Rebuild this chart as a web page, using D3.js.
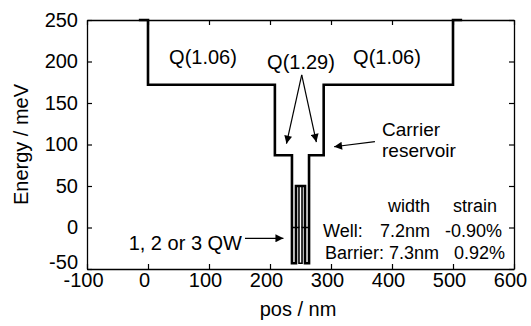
<!DOCTYPE html>
<html><head><meta charset="utf-8">
<script src="https://cdn.jsdelivr.net/npm/d3@7"></script>
<style>
body{margin:0;background:#fff;}
text{font-family:"Liberation Sans",Arial,sans-serif;fill:#000;}
</style></head>
<body><svg id="c" width="531" height="326"></svg>
<script>
// ---- data ----
const xTicks = [-100, 0, 100, 200, 300, 400, 500, 600];
const yTicks = [-50, 0, 50, 100, 150, 200, 250];
// main band profile (pos nm, energy meV)
const outlinePos = [-15, 0, 0, 208, 208, 236, 236, 242.6, 242.6, 257.4, 257.4, 264, 264, 288, 288, 500, 500, 515];
const outlineE   = [250, 250, 172, 172, 87, 87, -43, -43, 50, 50, -43, -43, 87, 87, 172, 172, 250, 250];
// overlaid well profiles
const wellAPos = [236, 247.5, 247.5, 252.5, 252.5, 264];
const wellAE   = [0, 0, -43, -43, 0, 0];
const wellBPos = [247.5, 247.5];
const wellBE   = [50, 0];
const wellCPos = [252.5, 252.5];
const wellCE   = [50, 0];
// arrows [x0,E0,x1,E1] in data units
const arrows = [
  [252, 184, 227, 101],
  [252, 184, 276, 103],
  [372, 103.4, 305, 97.3],
  [159, -13, 222, -13]
];

const x = d3.scaleLinear().domain([-100, 600]).range([87, 514]);
const y = d3.scaleLinear().domain([-50, 250]).range([269, 20]);
const svg = d3.select("#c");
const fmt = d => String(d);

svg.append("defs").append("marker")
  .attr("id", "ah").attr("viewBox", "0 0 10 10").attr("refX", 10).attr("refY", 5)
  .attr("markerWidth", 10).attr("markerHeight", 8).attr("markerUnits", "userSpaceOnUse")
  .attr("orient", "auto")
  .append("path").attr("d", "M0,0 L10,5 L0,10 Z").attr("fill", "#000");

// axes
const tk = 5;
const gB = svg.append("g").attr("transform", `translate(0,${y(-50)})`)
  .call(d3.axisBottom(x).tickValues(xTicks).tickFormat(fmt).tickSizeInner(-tk).tickSizeOuter(0).tickPadding(4));
const gT = svg.append("g").attr("transform", `translate(0,${y(250)})`)
  .call(d3.axisTop(x).tickValues(xTicks).tickSizeInner(-tk).tickSizeOuter(0).tickFormat(""));
const gL = svg.append("g").attr("transform", `translate(${x(-100)},0)`)
  .call(d3.axisLeft(y).tickValues(yTicks).tickFormat(fmt).tickSizeInner(-tk).tickSizeOuter(0).tickPadding(9));
const gR = svg.append("g").attr("transform", `translate(${x(600)},0)`)
  .call(d3.axisRight(y).tickValues(yTicks).tickSizeInner(-tk).tickSizeOuter(0).tickFormat(""));
[gB, gT, gL, gR].forEach(g => {
  g.select(".domain").attr("stroke", "#000").attr("stroke-width", 1.3);
  g.selectAll(".tick line").attr("stroke", "#000").attr("stroke-width", 1.2);
  g.selectAll(".tick text").attr("font-size", 20).attr("fill", "#000")
   .attr("font-family", '"Liberation Sans",Arial,sans-serif');
});
gB.selectAll(".tick text").attr("dx", -4);
gL.selectAll(".tick text").filter(d => d === -50).attr("dy", "-0.05em");

// profiles
const line = d3.line().x(d => x(d[0])).y(d => y(d[1]));
const zipP = (a, b) => a.map((v, i) => [v, b[i]]);
svg.append("path").datum(zipP(outlinePos, outlineE)).attr("d", line)
  .attr("fill", "none").attr("stroke", "#000").attr("stroke-width", 2.6).attr("stroke-linejoin", "miter");
[[wellAPos, wellAE], [wellBPos, wellBE], [wellCPos, wellCE]].forEach(([p, e]) => {
  svg.append("path").datum(zipP(p, e)).attr("d", line)
    .attr("fill", "none").attr("stroke", "#000").attr("stroke-width", 1.6);
});

// arrows
arrows.forEach(a => {
  svg.append("line").attr("x1", x(a[0])).attr("y1", y(a[1])).attr("x2", x(a[2])).attr("y2", y(a[3]))
    .attr("stroke", "#000").attr("stroke-width", 1.2).attr("marker-end", "url(#ah)");
});

// labels
const txt = (s, px, py, opts = {}) => svg.append("text").attr("x", px).attr("y", py)
  .attr("font-size", opts.fs || 20).attr("text-anchor", opts.anchor || "start").text(s);
txt("Q(1.06)", 203, 64, {anchor: "middle"});
txt("Q(1.06)", 387, 64, {anchor: "middle"});
txt("Q(1.29)", 301, 69, {anchor: "middle"});
txt("Carrier", 382, 136, {fs: 19});
txt("reservoir", 382, 157, {fs: 19});
txt("1, 2 or 3 QW", 242, 250, {anchor: "end"});
txt("width", 388, 212, {fs: 18});
txt("strain", 453, 212, {fs: 18});
txt("Well:", 323, 237, {fs: 18});
txt("7.2nm", 380, 237, {fs: 18});
txt("-0.90%", 502, 237, {fs: 18, anchor: "end"});
txt("Barrier: 7.3nm", 325, 259, {fs: 18});
txt("0.92%", 505, 259, {fs: 18, anchor: "end"});
txt("pos / nm", 298, 316, {anchor: "middle"});
svg.append("text").attr("transform", `translate(28,${(y(-50) + y(250)) / 2}) rotate(-90)`)
  .attr("text-anchor", "middle").attr("font-size", 20).text("Energy / meV");
</script></body></html>
